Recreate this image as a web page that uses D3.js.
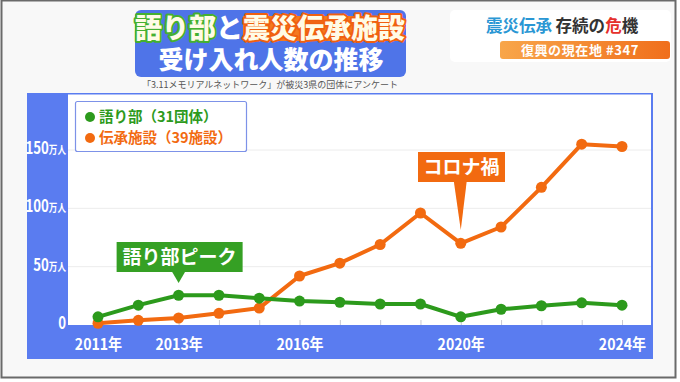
<!DOCTYPE html>
<html><head><meta charset="utf-8">
<script src="https://cdn.jsdelivr.net/npm/d3@7"></script>
<style>
html,body{margin:0;padding:0;background:#fff;}
svg{display:block;font-family:"Noto Sans CJK JP","Noto Sans",sans-serif;}
</style></head>
<body><svg id="c" width="680" height="382"></svg>
<script>
const years = [2011,2012,2013,2014,2015,2016,2017,2018,2019,2020,2021,2022,2023,2024];
const kataribe = [7,17,25.5,25.5,23,20.5,19.5,18,18,7,13.5,16.5,19,17];
const denshou  = [1.5,4,6,10,14.5,42,53,69,96,70,84,118,155,153];
const xLabelYears = [2011,2013,2016,2020,2024];
const yTicks = [0,50,100,150];
const seriesNames = ["語り部（31団体）","伝承施設（39施設）"];

const svg = d3.select("#c");
const green = "#2c9a1c", orange = "#f26a10", blue = "#5a7cf0";

// background / frame
svg.append("rect").attr("x",0).attr("y",0).attr("width",680).attr("height",382).attr("fill","#ffffff");
svg.append("rect").attr("x",1.5).attr("y",0.5).attr("width",674).attr("height",377).attr("fill","#f8f8f8").attr("stroke","#6a6a6a").attr("stroke-width",2);

// title box
svg.append("rect").attr("x",135).attr("y",10).attr("width",271).attr("height",67).attr("rx",6).attr("fill","#4f74e8");
svg.append("rect").attr("x",243).attr("y",16).attr("width",155).attr("height",25).attr("fill","#f47a1e");
const t1 = svg.append("text").attr("x",270).attr("y",38).attr("text-anchor","middle")
  .attr("font-size",27).attr("font-weight",900).attr("paint-order","stroke").attr("stroke-linejoin","round");
t1.append("tspan").text("語り部").attr("fill","#fffbe6").attr("stroke","#45b030").attr("stroke-width",4);
t1.append("tspan").text("と").attr("fill","#ffffff").attr("stroke","none");
t1.append("tspan").text("震災伝承施設").attr("fill","#fffbe6").attr("stroke","#f06010").attr("stroke-width",4);
t1.append("tspan").attr("x",271).attr("y",69).attr("font-size",25).attr("fill","#fff").attr("stroke","none")
  .text("受け入れ人数の推移");
svg.append("text").attr("x",270).attr("y",88).attr("text-anchor","middle").attr("font-size",9).attr("fill","#555")
  .text("「3.11メモリアルネットワーク」が被災3県の団体にアンケート");

// right badge
svg.append("rect").attr("x",450).attr("y",10).attr("width",221).attr("height",52).attr("rx",5).attr("fill","#ffffff");
const rt = svg.append("text").attr("x",562).attr("y",32).attr("text-anchor","middle").attr("font-size",16.5).attr("font-weight",700);
rt.append("tspan").text("震災伝承").attr("fill","#2a97d4");
rt.append("tspan").text(" 存続の").attr("fill","#333");
rt.append("tspan").text("危").attr("fill","#e5312c");
rt.append("tspan").text("機").attr("fill","#333");
const bg = svg.append("defs").append("linearGradient").attr("id","og").attr("x1",0).attr("x2",1);
bg.append("stop").attr("offset","0").attr("stop-color","#f8a64a");
bg.append("stop").attr("offset","1").attr("stop-color","#f06f1c");
svg.append("rect").attr("x",500).attr("y",41).attr("width",170).attr("height",18).attr("rx",3).attr("fill","url(#og)");
svg.append("text").attr("x",580).attr("y",55).attr("text-anchor","middle").attr("font-size",13).attr("font-weight",700)
  .attr("letter-spacing",0.6).attr("fill","#fff").text("復興の現在地 #347");

// chart panel
svg.append("rect").attr("x",27).attr("y",93).attr("width",626).attr("height",266).attr("fill",blue);
svg.append("rect").attr("x",68).attr("y",94.5).attr("width",583).attr("height",230.5).attr("fill","#fff");

const x = d3.scaleLinear().domain([2011,2024]).range([98,622]);
const y = d3.scaleLinear().domain([0,150]).range([325,150]);

// gridlines
svg.append("g").selectAll("line").data(yTicks.filter(d=>d>0)).join("line")
  .attr("x1",68).attr("x2",651).attr("y1",d=>y(d)).attr("y2",d=>y(d))
  .attr("stroke","#ececec").attr("stroke-width",1);

// x tick marks
const gx = svg.append("g").attr("transform","translate(0,325)")
  .call(d3.axisBottom(x).tickValues(years).tickSizeInner(-5).tickSizeOuter(0).tickFormat(""));
gx.select(".domain").remove();
gx.selectAll(".tick line").attr("stroke","#c8c8d0");

// x labels
const gxl = svg.append("g").attr("transform","translate(0,335)")
  .call(d3.axisBottom(x).tickValues(xLabelYears).tickSize(0).tickFormat(d=>d+"年"));
gxl.select(".domain").remove();
gxl.selectAll("text").attr("fill","#fff").attr("font-size",16).attr("font-weight",700)
  .attr("font-family","'Liberation Sans Narrow','Noto Sans CJK JP',sans-serif").attr("dy","0.72em")
  .attr("transform","scale(0.88,1)").attr("x",function(){return 0;});
gxl.selectAll(".tick").each(function(d){ d3.select(this).select("text").attr("transform","scale(0.88,1)"); });

// y labels
const gy = svg.append("g").attr("transform","translate(66,0)")
  .call(d3.axisLeft(y).tickValues(yTicks).tickSize(0).tickPadding(0).tickFormat(""));
gy.select(".domain").remove();
gy.selectAll(".tick text").each(function(d){
  const s = d3.select(this).attr("fill","#fff").attr("font-weight",700).attr("dy","0.35em").attr("x",0)
    .attr("transform","scale(0.78,1)")
    .attr("font-family","'Liberation Sans Narrow','Noto Sans CJK JP',sans-serif");
  s.append("tspan").attr("font-size",17).text(d);
  if(d>0) s.append("tspan").attr("font-size",11).attr("font-family","'Noto Sans CJK JP'").text("万人");
});

// lines
const line = d3.line().x((d,i)=>x(years[i])).y(d=>y(d));
function drawSeries(vals,col){
  svg.append("path").datum(vals).attr("d",line).attr("fill","none").attr("stroke",col).attr("stroke-width",4).attr("stroke-linejoin","round");
  svg.append("g").selectAll("circle").data(vals).join("circle")
    .attr("cx",(d,i)=>x(years[i])).attr("cy",d=>y(d)).attr("r",5.5).attr("fill",col);
}
drawSeries(denshou,orange);
drawSeries(kataribe,green);

// legend
svg.append("rect").attr("x",75.5).attr("y",101.5).attr("width",171).attr("height",50).attr("rx",2)
  .attr("fill","#fff").attr("stroke","#7d92e8").attr("stroke-width",1.2);
[[green,117],[orange,138]].forEach(([c,yy],i)=>{
  svg.append("circle").attr("cx",90).attr("cy",yy).attr("r",5).attr("fill",c);
  svg.append("text").attr("x",99).attr("y",yy).attr("dy","0.36em").attr("font-size",14.5).attr("font-weight",700)
    .attr("fill",c).text(seriesNames[i]);
});

// callout: 語り部ピーク
const px = x(2013);
svg.append("rect").attr("x",px-62).attr("y",242).attr("width",126).attr("height",30).attr("fill","#35a024");
svg.append("path").attr("d",`M${px-7},271 L${px+7},271 L${px},283 Z`).attr("fill","#35a024");
svg.append("text").attr("x",px+1).attr("y",257).attr("dy","0.36em").attr("text-anchor","middle")
  .attr("font-size",19).attr("font-weight",700).attr("fill","#fff").text("語り部ピーク");

// callout: コロナ禍
const cx = x(2020);
svg.append("rect").attr("x",418).attr("y",152).attr("width",87).attr("height",30).attr("fill",orange);
svg.append("path").attr("d",`M${cx-7},181 L${cx+6},181 L${cx},230 Z`).attr("fill",orange);
svg.append("text").attr("x",461.5).attr("y",167).attr("dy","0.36em").attr("text-anchor","middle")
  .attr("font-size",19).attr("font-weight",700).attr("fill","#fff").text("コロナ禍");
</script>
</body></html>
